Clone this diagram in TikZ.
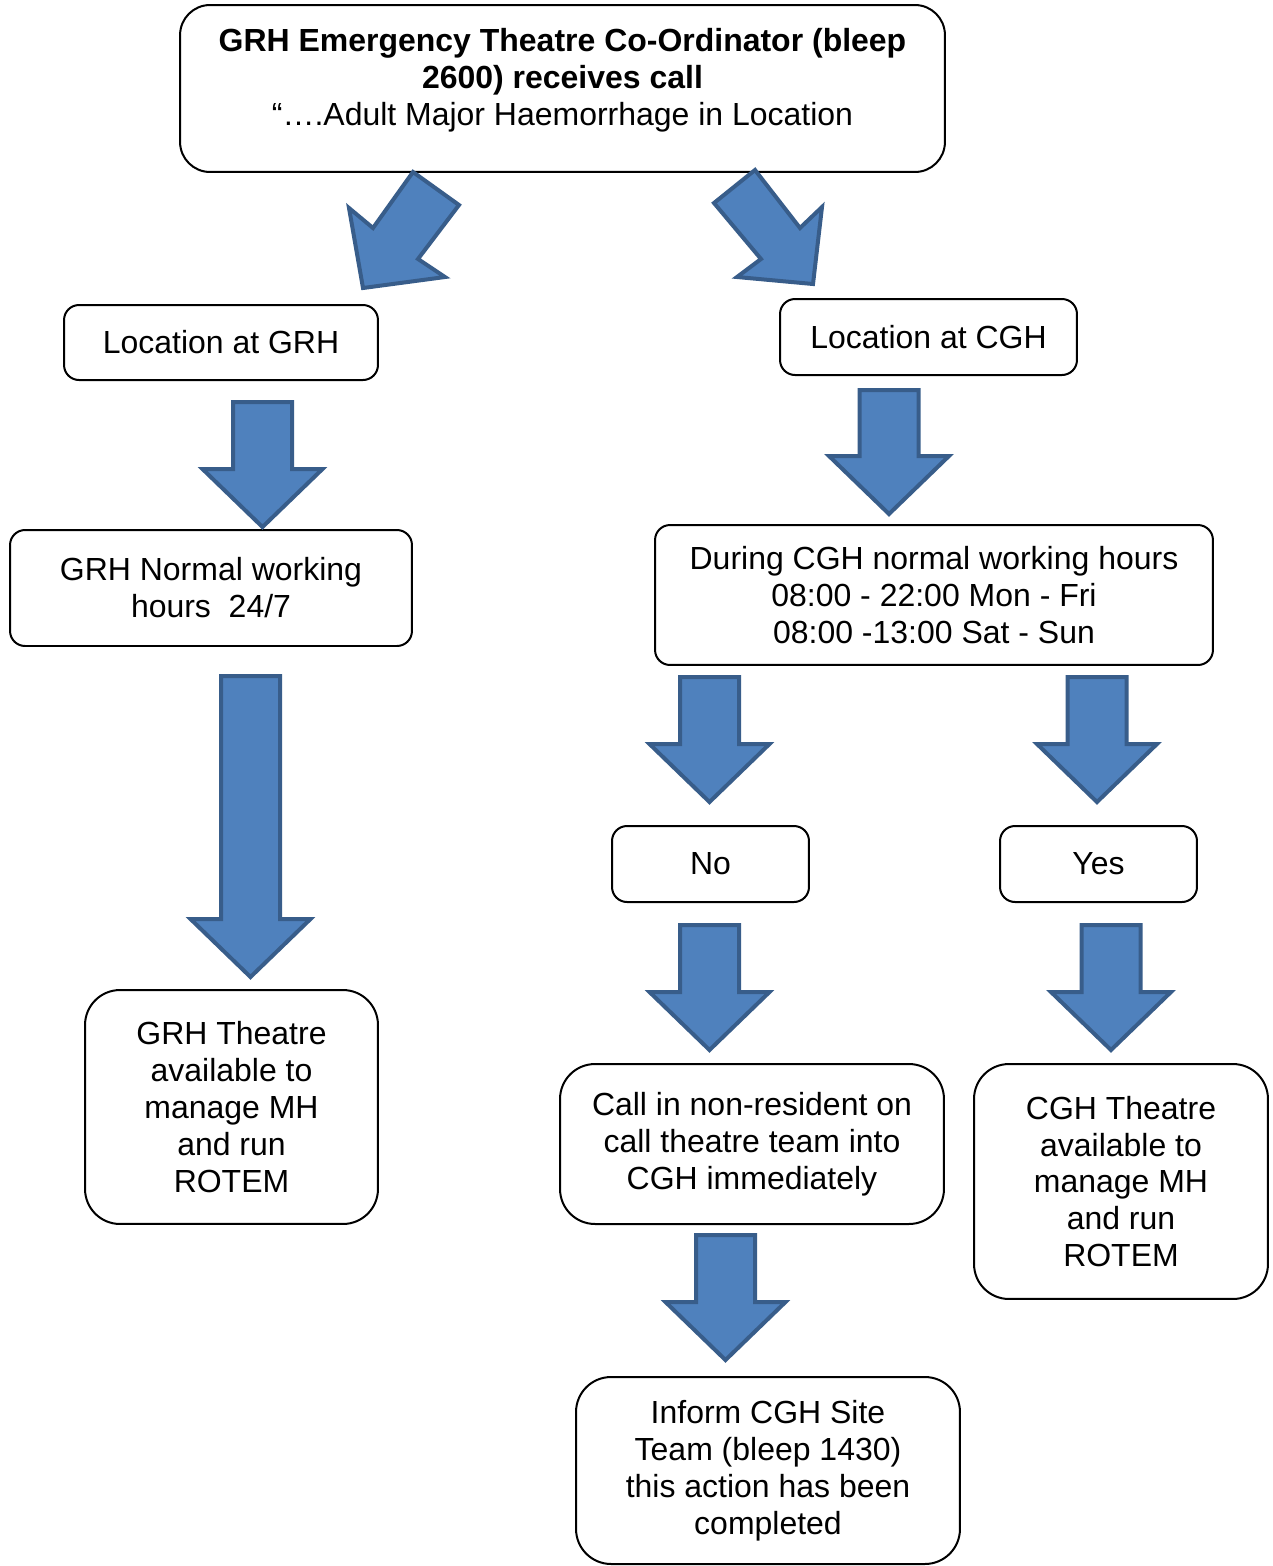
\documentclass[tikz,border=0pt]{standalone}
\usepackage{fontspec}
\setmainfont{Liberation Sans}
\usetikzlibrary{positioning}

\definecolor{arrowfill}{RGB}{79, 129, 189}
\definecolor{arrowline}{RGB}{56, 93, 138}

% block arrow pointing down: x of centre, top of shaft, tip
\newcommand\downblock[3]{
    \draw[blockarrow] (#1-29.5,#2) -- (#1+29.5,#2) -- (#1+29.5,#3-58) -- (#1+60,#3-58)
        -- (#1,#3) -- (#1-60,#3-58) -- (#1-29.5,#3-58) -- cycle;
}

\begin{document}
\begin{tikzpicture}[x=0.02cm, y=-0.02cm,
        every node/.style={font=\fontsize{18.2}{21}\selectfont},
        box/.style={draw=black, line width=0.04cm, rounded corners=0.3cm, align=center, inner sep=0pt},
        bigbox/.style={box, rounded corners=0.7cm},
        blockarrow/.style={fill=arrowfill, draw=arrowline, line width=0.08cm, line join=miter},]

        \useasboundingbox (0,0) rectangle (1272,1566);

        \node[bigbox, rounded corners=0.6cm, minimum width=15.3cm, minimum height=3.34cm] (call) at (562.5,88.5) {};
        \node[align=center, inner sep=0pt] (calltext) at (562.5,80)
            {\textbf{GRH Emergency Theatre Co-Ordinator (bleep}\\ \textbf{2600) receives call}\\ “….Adult Major Haemorrhage in Location};

        \node[box, minimum width=6.28cm, minimum height=1.5cm] (locgrh) at (221,342.5) {Location at GRH};
        \node[box, minimum width=5.94cm, minimum height=1.52cm] (loccgh) at (928.5,337) {Location at CGH};

        \node[box, minimum width=8.04cm, minimum height=2.32cm] (grhhours) at (211,588) {GRH Normal working\\ hours\ \ 24/7};
        \node[box, minimum width=11.16cm, minimum height=2.8cm] (cghhours) at (934,595) {During CGH normal working hours\\ 08:00 - 22:00 Mon - Fri\\ 08:00 -13:00 Sat - Sun};

        \node[box, minimum width=3.94cm, minimum height=1.52cm] (no) at (710.5,864) {No};
        \node[box, minimum width=3.94cm, minimum height=1.52cm] (yes) at (1098.5,864) {Yes};

        \node[bigbox, minimum width=5.86cm, minimum height=4.68cm] (grhtheatre) at (231.5,1107) {GRH Theatre\\ available to\\ manage MH\\ and run\\ ROTEM};
        \node[bigbox, minimum width=7.68cm, minimum height=3.2cm] (callin) at (752,1144) {Call in non-resident on\\ call theatre team into\\ CGH immediately};
        \node[bigbox, minimum width=5.88cm, minimum height=4.7cm] (cghtheatre) at (1121,1181.5) {CGH Theatre\\ available to\\ manage MH\\ and run\\ ROTEM};
        \node[bigbox, minimum width=7.68cm, minimum height=3.74cm] (inform) at (768,1470.5) {Inform CGH Site\\ Team (bleep 1430)\\ this action has been\\ completed};

        % diagonal arrows from the call box
        \draw[blockarrow] (413,172) -- (459,205) -- (418,259) -- (445,277) -- (363,288) -- (349,208) -- (373,228) -- cycle;
        \draw[blockarrow] (755,170) -- (800,228) -- (822,207) -- (813,284) -- (737,277) -- (761,259) -- (714,203) -- cycle;

        % GRH side
        \downblock{262.5}{402}{527}
        \downblock{250.5}{676}{977}

        % CGH side
        \downblock{889}{390}{514}
        \downblock{709.5}{677}{802}
        \downblock{1097}{677}{802}
        \downblock{709.5}{925}{1050}
        \downblock{1111}{925}{1050}
        \downblock{725.5}{1235}{1360}

\end{tikzpicture}
\end{document}
